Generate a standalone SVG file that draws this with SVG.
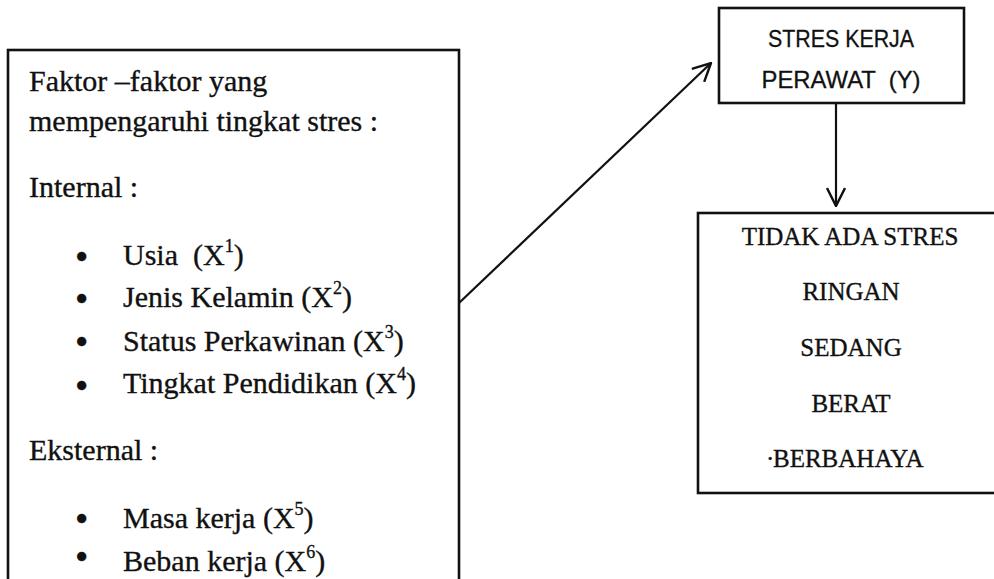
<svg xmlns="http://www.w3.org/2000/svg" width="994" height="579" viewBox="0 0 994 579">
  <style>
    .box { fill: #ffffff; stroke: #111111; stroke-width: 2.6; }
    .serif { font-family: "Liberation Serif", "Times New Roman", serif; fill: #111111; stroke: #111111; stroke-width: 0.35; }
    .lt { font-size: 30px; }
    .bul { font-size: 38px; }
    .sup { font-size: 18px; }
    .sans { font-family: "Liberation Sans", Arial, sans-serif; font-size: 24px; fill: #111111; text-anchor: middle; stroke: #111111; stroke-width: 0.3; }
    .rt { font-size: 25px; text-anchor: middle; }
    .conn { fill: none; stroke: #111111; stroke-width: 2.2; }
  </style>
  <defs>
    <marker id="open-arrow" viewBox="0 0 20 20" refX="19" refY="10" markerWidth="20" markerHeight="20" markerUnits="userSpaceOnUse" orient="auto">
      <path d="M1,1 L19,10 L1,19" fill="none" stroke="#111111" stroke-width="2.4" stroke-linejoin="miter"/>
    </marker>
  </defs>
  <rect x="0" y="0" width="994" height="579" fill="#ffffff"/>

  <g id="faktor">
    <rect class="box" x="8" y="50" width="451" height="560"/>
    <text class="serif lt" x="29" y="91">Faktor –faktor yang</text>
    <text class="serif lt" x="29" y="131">mempengaruhi tingkat stres :</text>
    <text class="serif lt" x="29" y="197">Internal :</text>
    <text class="serif bul" x="75" y="270">•</text>
    <text class="serif lt" x="123" y="265" style="white-space:pre">Usia  (X<tspan class="sup" dy="-13">1</tspan><tspan dy="13">)</tspan></text>
    <text class="serif bul" x="75" y="312">•</text>
    <text class="serif lt" x="123" y="307">Jenis Kelamin (X<tspan class="sup" dy="-13">2</tspan><tspan dy="13">)</tspan></text>
    <text class="serif bul" x="75" y="355">•</text>
    <text class="serif lt" x="123" y="351">Status Perkawinan (X<tspan class="sup" dy="-13">3</tspan><tspan dy="13">)</tspan></text>
    <text class="serif bul" x="75" y="399">•</text>
    <text class="serif lt" x="123" y="393">Tingkat Pendidikan (X<tspan class="sup" dy="-13">4</tspan><tspan dy="13">)</tspan></text>
    <text class="serif lt" x="29" y="460">Eksternal :</text>
    <text class="serif bul" x="75" y="532">•</text>
    <text class="serif lt" x="123" y="528">Masa kerja (X<tspan class="sup" dy="-13">5</tspan><tspan dy="13">)</tspan></text>
    <text class="serif bul" x="75" y="570">•</text>
    <text class="serif lt" x="123" y="571">Beban kerja (X<tspan class="sup" dy="-13">6</tspan><tspan dy="13">)</tspan></text>
  </g>

  <g id="stres-kerja">
    <rect class="box" x="719" y="8" width="245" height="95"/>
    <text class="sans" x="841" y="47" textLength="146" lengthAdjust="spacingAndGlyphs">STRES KERJA</text>
    <text class="sans" x="841" y="88" textLength="159" lengthAdjust="spacingAndGlyphs" style="white-space:pre">PERAWAT  (Y)</text>
  </g>

  <g id="tingkat-stres">
    <rect class="box" x="698" y="213" width="320" height="280"/>
    <text class="serif rt" x="850" y="245">TIDAK ADA STRES</text>
    <text class="serif rt" x="851" y="300">RINGAN</text>
    <text class="serif rt" x="851" y="356">SEDANG</text>
    <text class="serif rt" x="851" y="412">BERAT</text>
    <text class="serif" style="font-size:25px" x="766" y="467">·<tspan x="773">BERBAHAYA</tspan></text>
  </g>

  <g id="connectors">
    <line class="conn" x1="459" y1="303" x2="711" y2="63" marker-end="url(#open-arrow)"/>
    <line class="conn" x1="836" y1="103" x2="836" y2="206" marker-end="url(#open-arrow)"/>
  </g>
</svg>
